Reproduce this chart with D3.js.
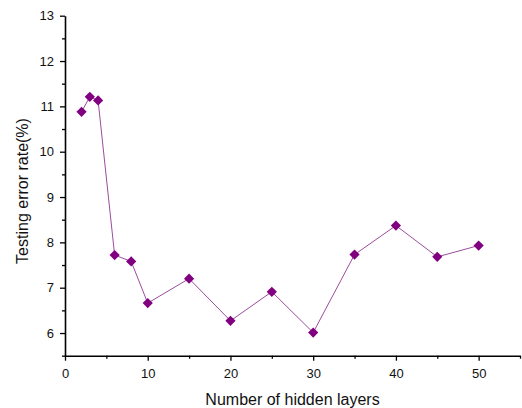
<!DOCTYPE html>
<html>
<head>
<meta charset="utf-8">
<script src="https://cdn.jsdelivr.net/npm/d3@7"></script>
<style>
  html, body { margin: 0; padding: 0; background: #fff; }
  svg { display: block; font-family: Arial, "Liberation Sans", sans-serif; }
</style>
</head>
<body>
<svg id="chart" width="522" height="408"></svg>
<script>
// Hidden layer counts and the testing error rate (%) measured for each
const hiddenLayers = [2, 3, 4, 6, 8, 10, 15, 20, 25, 30, 35, 40, 45, 50];
const errorRates   = [10.88, 11.21, 11.13, 7.72, 7.58, 6.66, 7.20, 6.27, 6.91, 6.01, 7.73, 8.37, 7.68, 7.93];

const xMajorTicks = [0, 10, 20, 30, 40, 50];
const xMinorTicks = [5, 15, 25, 35, 45, 55];
const yMajorTicks = [6, 7, 8, 9, 10, 11, 12, 13];
const yMinorTicks = [5.5, 6.5, 7.5, 8.5, 9.5, 10.5, 11.5, 12.5];

const xTitle = "Number of hidden layers";
const yTitle = "Testing error rate(%)";

const color = "#800080";
const svg = d3.select("#chart");

const plotLeft = 65, plotRight = 520, plotTop = 15.7, plotBottom = 355.7;

const x = d3.scaleLinear().domain([0, 55]).range([plotLeft, plotRight]);
const y = d3.scaleLinear().domain([5.5, 13]).range([plotBottom, plotTop]);

// Minor tick marks
const minorX = d3.axisBottom(x).tickValues(xMinorTicks).tickSize(3).tickFormat("");
const minorY = d3.axisLeft(y).tickValues(yMinorTicks).tickSize(3).tickFormat("");

svg.append("g").attr("transform", `translate(0,${plotBottom})`).call(minorX)
  .call(g => g.select(".domain").remove())
  .selectAll("line").attr("stroke", "#000").attr("stroke-width", 1.3);
svg.append("g").attr("transform", `translate(${plotLeft},0)`).call(minorY)
  .call(g => g.select(".domain").remove())
  .selectAll("line").attr("stroke", "#000").attr("stroke-width", 1.3);

// Major axes
const xAxis = d3.axisBottom(x).tickValues(xMajorTicks).tickSize(5).tickSizeOuter(0).tickPadding(8);
const yAxis = d3.axisLeft(y).tickValues(yMajorTicks).tickSize(5).tickSizeOuter(0).tickPadding(6);

const gx = svg.append("g").attr("transform", `translate(0,${plotBottom})`).call(xAxis);
const gy = svg.append("g").attr("transform", `translate(${plotLeft},0)`).call(yAxis);

[gx, gy].forEach(g => {
  g.select(".domain").attr("stroke", "#000").attr("stroke-width", 1.6);
  g.selectAll(".tick line").attr("stroke", "#000").attr("stroke-width", 1.3);
  g.selectAll(".tick text")
    .attr("fill", "#111")
    .style("font-size", "13px")
    .style("font-family", "Arial, 'Liberation Sans', sans-serif");
});

// Axis titles
svg.append("text")
  .attr("x", (plotLeft + plotRight) / 2)
  .attr("y", 405)
  .attr("text-anchor", "middle")
  .attr("fill", "#111")
  .style("font-size", "16px")
  .text(xTitle);

svg.append("text")
  .attr("transform", `translate(28,191) rotate(-90)`)
  .attr("text-anchor", "middle")
  .attr("fill", "#111")
  .style("font-size", "16px")
  .text(yTitle);

// Connecting line
const points = hiddenLayers.map((h, i) => [h, errorRates[i]]);
svg.append("path")
  .datum(points)
  .attr("fill", "none")
  .attr("stroke", "#9a4d9a")
  .attr("stroke-width", 1)
  .attr("d", d3.line().x(d => x(d[0])).y(d => y(d[1])));

// Diamond markers
const diamond = d3.symbol().type(d3.symbolSquare).size(52);
svg.append("g").selectAll("path")
  .data(points)
  .join("path")
  .attr("d", diamond)
  .attr("fill", color)
  .attr("transform", d => `translate(${x(d[0])},${y(d[1])}) rotate(45)`);
</script>
</body>
</html>
